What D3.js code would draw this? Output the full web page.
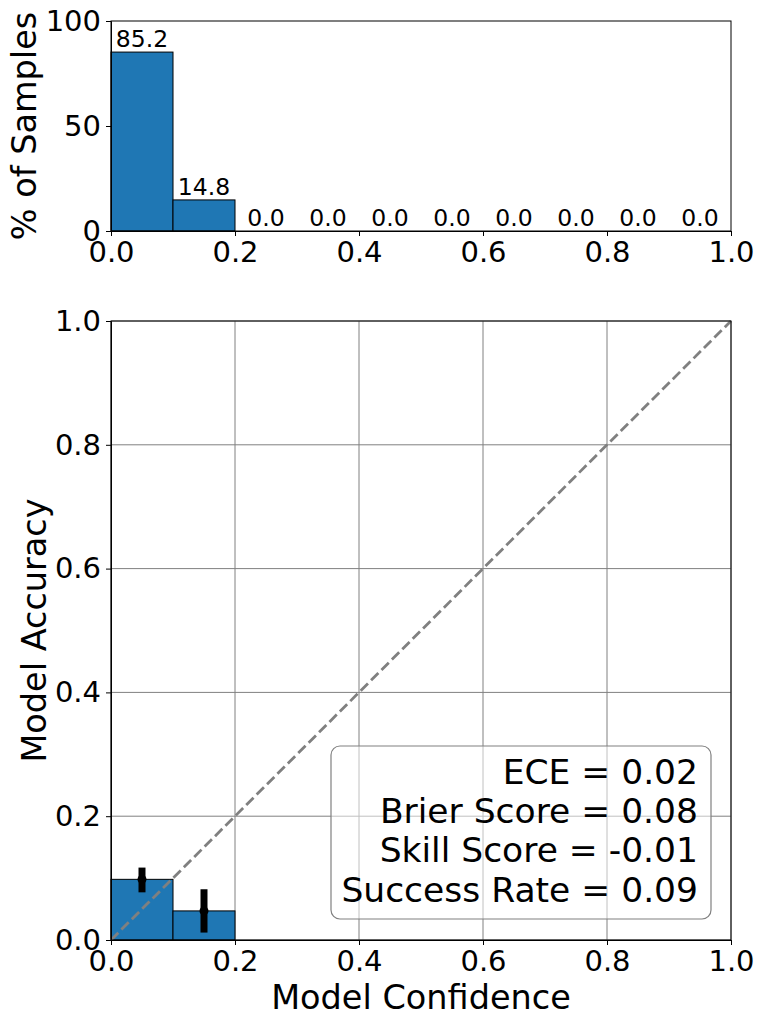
<!DOCTYPE html>
<html>
<head>
<meta charset="utf-8">
<script src="https://cdn.jsdelivr.net/npm/d3@7"></script>
<style>
  body { margin: 0; background: #fff; }
  svg { font-family: "DejaVu Sans", sans-serif; }
</style>
</head>
<body>
<svg id="chart" width="763" height="1026"></svg>
<script>
// bin edges (confidence) and values
var binStarts = [0.0, 0.1, 0.2, 0.3, 0.4, 0.5, 0.6, 0.7, 0.8, 0.9];
var samplePct = [85.2, 14.8, 0.0, 0.0, 0.0, 0.0, 0.0, 0.0, 0.0, 0.0];
var accBins = [0.0, 0.1];
var accValues = [0.098, 0.047];
var errLow = [0.077, 0.012];
var errHigh = [0.117, 0.082];
var xTicks = [0, 0.2, 0.4, 0.6, 0.8, 1.0];
var topYTicks = [0, 50, 100];
var bottomYTicks = [0, 0.2, 0.4, 0.6, 0.8, 1.0];
var statNames = ["ECE", "Brier Score", "Skill Score", "Success Rate"];
var statValues = ["0.02", "0.08", "-0.01", "0.09"];

var binWidth = 0.1;
var barColor = "#1f77b4";
var tickFont = 29;
var labelFont = 33.5;

var svg = d3.select("#chart");

// ---- top panel: sample histogram
var histBox = { left: 111, right: 731, top: 21, bottom: 231 };
var xTop = d3.scaleLinear().domain([0, 1]).range([histBox.left, histBox.right]);
var yTop = d3.scaleLinear().domain([0, 100]).range([histBox.bottom, histBox.top]);

var gTop = svg.append("g");

gTop.selectAll("rect.bar")
  .data(binStarts)
  .enter()
  .append("rect")
  .attr("class", "bar")
  .attr("x", function(d) { return xTop(d); })
  .attr("y", function(d, i) { return yTop(samplePct[i]); })
  .attr("width", function(d) { return xTop(d + binWidth) - xTop(d); })
  .attr("height", function(d, i) { return yTop(0) - yTop(samplePct[i]); })
  .attr("fill", barColor)
  .attr("stroke", "#000")
  .attr("stroke-width", 1);

gTop.selectAll("text.val")
  .data(binStarts)
  .enter()
  .append("text")
  .attr("class", "val")
  .attr("x", function(d) { return xTop(d + binWidth / 2); })
  .attr("y", function(d, i) { return yTop(samplePct[i]) - 5; })
  .attr("text-anchor", "middle")
  .attr("font-size", 23.5)
  .text(function(d, i) { return samplePct[i].toFixed(1); });

// frame
gTop.append("rect")
  .attr("x", histBox.left).attr("y", histBox.top)
  .attr("width", histBox.right - histBox.left).attr("height", histBox.bottom - histBox.top)
  .attr("fill", "none").attr("stroke", "#000").attr("stroke-width", 1);

gTop.append("g")
  .attr("transform", "translate(0," + histBox.bottom + ")")
  .call(d3.axisBottom(xTop).tickValues(xTicks).tickFormat(d3.format(".1f")).tickSize(5).tickPadding(5));
gTop.append("g")
  .attr("transform", "translate(" + histBox.left + ",0)")
  .call(d3.axisLeft(yTop).tickValues(topYTicks).tickFormat(d3.format("d")).tickSize(5).tickPadding(5));

gTop.append("text")
  .attr("transform", "translate(36," + ((histBox.top + histBox.bottom) / 2) + ") rotate(-90)")
  .attr("text-anchor", "middle")
  .attr("font-size", labelFont)
  .text("% of Samples");

// ---- bottom panel: reliability diagram
var relBox = { left: 111, right: 731, top: 321, bottom: 940 };
var xBot = d3.scaleLinear().domain([0, 1]).range([relBox.left, relBox.right]);
var yBot = d3.scaleLinear().domain([0, 1]).range([relBox.bottom, relBox.top]);

var gBot = svg.append("g");

// grid
gBot.selectAll("line.gx")
  .data(xTicks)
  .enter()
  .append("line")
  .attr("x1", function(d) { return xBot(d); })
  .attr("x2", function(d) { return xBot(d); })
  .attr("y1", relBox.top).attr("y2", relBox.bottom)
  .attr("stroke", "#808080").attr("stroke-width", 1);
gBot.selectAll("line.gy")
  .data(bottomYTicks)
  .enter()
  .append("line")
  .attr("y1", function(d) { return yBot(d); })
  .attr("y2", function(d) { return yBot(d); })
  .attr("x1", relBox.left).attr("x2", relBox.right)
  .attr("stroke", "#808080").attr("stroke-width", 1);

gBot.selectAll("rect.bar")
  .data(accBins)
  .enter()
  .append("rect")
  .attr("class", "bar")
  .attr("x", function(d) { return xBot(d); })
  .attr("y", function(d, i) { return yBot(accValues[i]); })
  .attr("width", function(d) { return xBot(d + binWidth) - xBot(d); })
  .attr("height", function(d, i) { return yBot(0) - yBot(accValues[i]); })
  .attr("fill", barColor)
  .attr("stroke", "#000")
  .attr("stroke-width", 1);

// perfect calibration line
gBot.append("line")
  .attr("x1", xBot(0)).attr("y1", yBot(0))
  .attr("x2", xBot(1)).attr("y2", yBot(1))
  .attr("stroke", "#808080")
  .attr("stroke-width", 2.8)
  .attr("stroke-dasharray", "10.3,4.4");

// error bars
gBot.selectAll("line.err")
  .data(accBins)
  .enter()
  .append("line")
  .attr("x1", function(d) { return xBot(d + binWidth / 2); })
  .attr("x2", function(d) { return xBot(d + binWidth / 2); })
  .attr("y1", function(d, i) { return yBot(errLow[i]); })
  .attr("y2", function(d, i) { return yBot(errHigh[i]); })
  .attr("stroke", "#000")
  .attr("stroke-width", 7);
gBot.selectAll("circle.pt")
  .data(accBins)
  .enter()
  .append("circle")
  .attr("cx", function(d) { return xBot(d + binWidth / 2); })
  .attr("cy", function(d, i) { return yBot(accValues[i]); })
  .attr("r", 4.5)
  .attr("fill", "#000");

// stats box
var boxX = 331, boxY = 746, boxW = 380, boxH = 173;
gBot.append("rect")
  .attr("x", boxX).attr("y", boxY)
  .attr("width", boxW).attr("height", boxH)
  .attr("rx", 9).attr("ry", 9)
  .attr("fill", "#fff").attr("fill-opacity", 0.5)
  .attr("stroke", "#808080").attr("stroke-width", 1.2);

gBot.selectAll("text.stat")
  .data(statNames)
  .enter()
  .append("text")
  .attr("class", "stat")
  .attr("x", boxX + boxW - 13)
  .attr("y", function(d, i) { return boxY + 38 + i * 39.2; })
  .attr("text-anchor", "end")
  .attr("font-size", 34.5)
  .text(function(d, i) { return d + " = " + statValues[i]; });

gBot.append("rect")
  .attr("x", relBox.left).attr("y", relBox.top)
  .attr("width", relBox.right - relBox.left).attr("height", relBox.bottom - relBox.top)
  .attr("fill", "none").attr("stroke", "#000").attr("stroke-width", 1);

gBot.append("g")
  .attr("transform", "translate(0," + relBox.bottom + ")")
  .call(d3.axisBottom(xBot).tickValues(xTicks).tickFormat(d3.format(".1f")).tickSize(5).tickPadding(5));
gBot.append("g")
  .attr("transform", "translate(" + relBox.left + ",0)")
  .call(d3.axisLeft(yBot).tickValues(bottomYTicks).tickFormat(d3.format(".1f")).tickSize(5).tickPadding(5));

gBot.append("text")
  .attr("x", (relBox.left + relBox.right) / 2)
  .attr("y", 1009)
  .attr("text-anchor", "middle")
  .attr("font-size", labelFont)
  .text("Model Confidence");

gBot.append("text")
  .attr("transform", "translate(46," + ((relBox.top + relBox.bottom) / 2) + ") rotate(-90)")
  .attr("text-anchor", "middle")
  .attr("font-size", labelFont)
  .text("Model Accuracy");

// axis styling to look like the reference
svg.selectAll(".domain").attr("stroke", "#000").attr("stroke-width", 1);
svg.selectAll(".tick line").attr("stroke", "#000").attr("stroke-width", 1);
svg.selectAll(".tick text")
  .attr("font-size", tickFont)
  .attr("font-family", "DejaVu Sans")
  .attr("fill", "#000");
</script>
</body>
</html>
